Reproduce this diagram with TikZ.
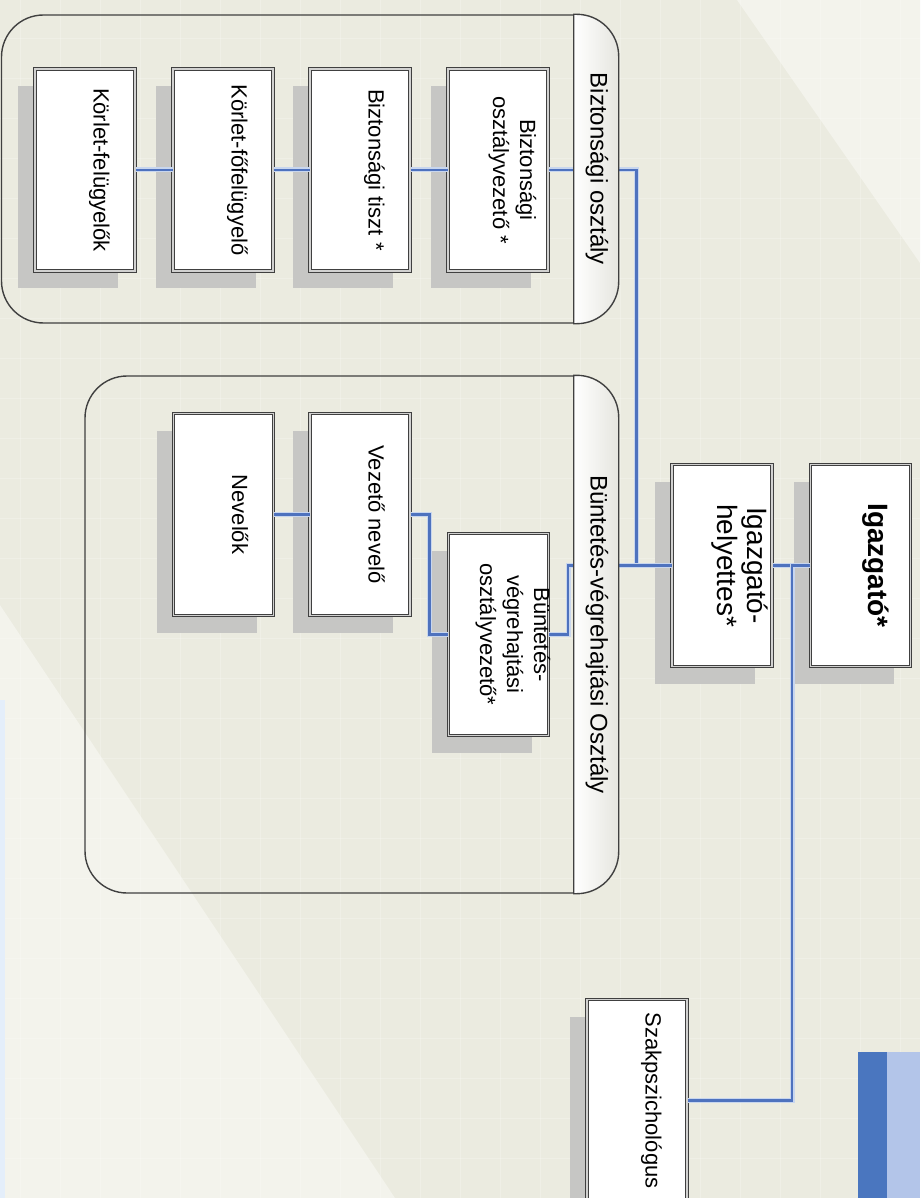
\documentclass[tikz,border=0pt]{standalone}
\usepackage{fontspec}
\setmainfont{Liberation Sans}
\usepackage{graphicx}
\usepackage{tikz}
\usetikzlibrary{shadows}

\definecolor{hatter}{HTML}{EBEBE0}
\definecolor{vilagos}{HTML}{F3F3EC}
\definecolor{arnyek}{HTML}{C6C6C4}
\definecolor{keret}{HTML}{404040}
\definecolor{vonal}{HTML}{4E72BE}
\definecolor{vonalfeny}{HTML}{C8D6EE}
\definecolor{sotetkek}{HTML}{4A76BF}
\definecolor{halvanykek}{HTML}{B3C5E9}
\definecolor{kekcsik}{HTML}{E4EEFA}

\newcommand{\forgat}[2][14pt]{\hspace*{#1}\rotatebox{-90}{\begin{tabular}{@{}c@{}}#2\end{tabular}}\hspace*{-#1}}

\begin{document}
\begin{tikzpicture}[x=1pt,y=-1pt,
  doboz/.style={draw=keret, line width=1pt, double=arnyek!80, double distance=1.6pt, fill=white,
    minimum width=100pt, minimum height=202pt, inner sep=0pt,
    font=\fontsize{22}{27}\selectfont,
    drop shadow={shadow xshift=-17pt, shadow yshift=-17pt, opacity=1, fill=arnyek}},
  kontener/.style={draw=keret, line width=1.4pt, rounded corners=42pt, inner sep=0pt},
  sav/.style={left color=white, right color=hatter!85!gray!70!white, draw=keret, line width=1.4pt},
  cim/.style={font=\fontsize{24}{28}\selectfont, inner sep=0pt},
  kapcs/.style={draw=vonal, line width=2.8pt, preaction={draw=vonalfeny, line width=5pt}},
  racs/.style={white, opacity=0.2, line width=0.8pt}]
\useasboundingbox (0,0) rectangle (920,1198);

% hatter
\fill[hatter] (0,0) rectangle (920,1198);
\fill[vilagos] (0,605) -- (395,1198) -- (0,1198) -- cycle;
\fill[vilagos] (737,0) -- (920,0) -- (920,263) -- cycle;
\foreach \gx in {20,60,...,900} \draw[racs] (\gx,0) -- (\gx,1198);
\foreach \gy in {38,78,...,1198} \draw[racs] (0,\gy) -- (920,\gy);
\fill[kekcsik] (0,700) rectangle (5,1198);

% osztalyok
\node[kontener, minimum width=616.5pt, minimum height=308pt] (bizt) at (309.75,169) {};
\node[kontener, minimum width=533pt, minimum height=517pt] (bvo) at (351.5,634.5) {};

% Biztonsagi osztaly
\node[doboz] (korfel) at (85,170) {\forgat{Körlet-felügyelők}};
\node[doboz] (korfof) at (223,170) {\forgat{Körlet-főfelügyelő}};
\node[doboz] (biztiszt) at (360,170) {\forgat{Biztonsági tiszt *}};
\node[doboz] (bizvez) at (498,170) {\forgat{Biztonsági\\osztályvezető *}};

% Buntetes-vegrehajtasi osztaly
\node[doboz] (nevelok) at (223.5,514.5) {\forgat{Nevelők}};
\node[doboz] (vezneve) at (360,514.5) {\forgat{Vezető nevelő}};
\node[doboz] (bvvez) at (498.5,634.5) {\forgat{Büntetés-\\végrehajtási\\osztályvezető*}};

% vezetes
\node[doboz, font=\fontsize{28}{30}\selectfont] (helyettes) at (722,565.5) {\forgat[16pt]{Igazgató-\\helyettes*}};
\node[doboz, font=\fontsize{28}{30}\selectfont\bfseries] (igazgato) at (860.5,565.5) {\forgat[14pt]{Igazgató*}};
\node[doboz] (szakpszi) at (637,1100.5) {\forgat{Szakpszichológus}};

% kapcsolatok
\draw[kapcs] (korfel) -- (korfof);
\draw[kapcs] (korfof) -- (biztiszt);
\draw[kapcs] (biztiszt) -- (bizvez);
\draw[kapcs] (nevelok) -- (vezneve);
\draw[kapcs] (vezneve.east) -- ++(19,0) |- (bvvez.west);
\draw[kapcs] (bizvez.east) -- ++(88,0) |- (helyettes.west);
\draw[kapcs] (bvvez.east) -- ++(19,0) |- (helyettes.west);
\draw[kapcs] (igazgato) -- (helyettes);
\draw[kapcs] (igazgato.west) -- ++(-18,0) |- (szakpszi.east);

% cimsavok
\shadedraw[sav] ([xshift=-45pt]bizt.north east) [rounded corners=42pt] -- (bizt.north east) -- (bizt.south east) [sharp corners] -- ([xshift=-45pt]bizt.south east) -- cycle;
\shadedraw[sav] ([xshift=-45pt]bvo.north east) [rounded corners=42pt] -- (bvo.north east) -- (bvo.south east) [sharp corners] -- ([xshift=-45pt]bvo.south east) -- cycle;
\node[cim] (biztcim) at (597,169) {\rotatebox{-90}{Biztonsági osztály}};
\node[cim] (bvocim) at (597,634.5) {\rotatebox{-90}{Büntetés-végrehajtási Osztály}};

% jobb also sarok
\fill[sotetkek] (858,1052) rectangle (887,1198);
\fill[halvanykek] (887,1052) rectangle (920,1198);

\end{tikzpicture}
\end{document}
